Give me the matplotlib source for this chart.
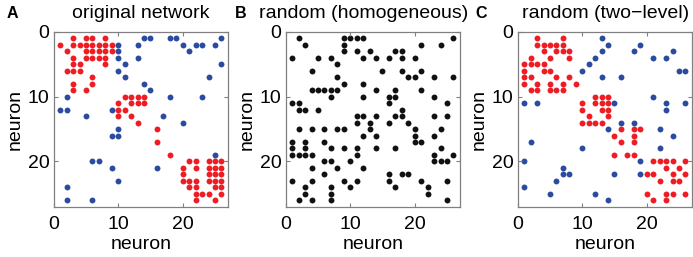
import matplotlib
matplotlib.use("Agg")
import matplotlib.pyplot as plt

plt.rcParams['font.family'] = ['Liberation Sans', 'DejaVu Sans']

# adjacency matrices: row (presynaptic) -> list of columns with a connection
a_red = {1: [3, 5, 6, 8], 2: [1, 3, 4, 5, 6, 7, 8, 9], 3: [2, 5, 6, 7, 8, 9],
         4: [3, 5, 6, 7, 8], 5: [3, 4, 8], 6: [2, 3, 4], 7: [6], 8: [3, 6],
         9: [3, 5], 10: [11, 12, 13, 14], 11: [10, 12, 13, 14], 12: [10, 11],
         13: [10, 12], 14: [13], 15: [16], 17: [16], 19: [18],
         20: [21, 22, 24, 25, 26], 21: [20, 22, 24, 25, 26], 22: [20, 24, 25, 26],
         23: [20, 21, 22, 24, 25, 26], 24: [21, 22, 25, 26], 25: [22, 23, 24, 26],
         26: [22, 25]}
a_blue = {1: [14, 15, 18, 19, 26], 2: [10, 13, 20, 22, 23, 25], 3: [10, 21],
          4: [10, 13], 5: [11, 26], 6: [10], 7: [11, 24], 8: [14], 9: [15],
          10: [2, 18, 23], 12: [1, 2, 9], 13: [5, 17], 14: [20], 15: [10],
          16: [9, 10], 19: [25], 20: [6, 7], 21: [9, 16], 23: [10], 24: [2],
          26: [2, 6]}

b_black = {1: [2, 9, 10, 11, 12, 26], 2: [3, 9, 21, 24], 3: [9, 11, 13, 17, 18],
           4: [1, 5, 7, 12, 14, 16, 18, 20], 5: [8], 6: [4, 15, 18, 21],
           7: [8, 19, 20, 23, 26], 8: [9, 12], 9: [4, 5, 6, 7, 8, 14, 17, 21],
           10: [7, 12, 16, 17, 23], 11: [1, 2, 16, 25], 12: [2, 3, 5, 18],
           13: [11, 12, 14, 17, 18, 23, 25], 14: [11, 13, 16, 19],
           15: [2, 4, 6, 8, 9, 13, 20, 24], 16: [12, 14, 20, 23],
           17: [1, 3, 6, 20, 21], 18: [1, 3, 7, 9, 11, 14, 17, 24],
           19: [1, 2, 3, 4, 11, 23, 26], 20: [6, 7, 10, 23, 24, 25],
           21: [4, 8, 12], 22: [6, 16, 18, 19], 23: [1, 4, 9, 11, 16, 21, 25],
           24: [3, 7, 10, 17, 22], 25: [3, 7, 22], 26: [2, 4, 7, 25]}

c_red = {1: [3, 7], 2: [3, 4, 5, 6, 7], 3: [4, 6, 7, 8], 4: [2, 5, 8],
         5: [1, 2, 3, 4], 6: [1, 4, 5], 7: [1, 2, 6, 8], 8: [1, 3, 5, 7, 9],
         9: [2, 3, 5, 6, 7], 10: [12, 13, 14], 11: [10, 12, 13, 14],
         12: [10, 13, 14], 13: [11, 14], 14: [10, 11, 12, 13], 15: [16, 18, 19],
         16: [15, 18], 17: [16, 18], 19: [15, 17, 18], 20: [21, 22, 23, 24, 26],
         21: [23, 25], 22: [20, 21, 24, 26], 23: [22, 24, 25],
         25: [20, 23, 24, 26], 26: [21, 23]}
c_blue = {1: [13], 2: [14, 19], 3: [13, 18, 24], 4: [12, 21, 23], 5: [11],
          6: [10, 25, 26], 7: [13, 16], 10: [21], 11: [1, 3, 15, 23, 26],
          12: [23], 14: [16, 18], 15: [14, 22], 16: [24], 17: [2], 18: [10, 22],
          20: [1, 19], 21: [7], 22: [7, 8, 15, 19], 23: [6], 24: [1], 25: [5, 12],
          26: [14]}

titles = ["original network", "random (homogeneous)", "random (two\u2212level)"]
letters = ["A", "B", "C"]
ticks = [0, 10, 20]

RED = '#ee1d23'
BLUE = '#2b4ba1'
BLACK = '#111111'


def to_xy(d):
    xs, ys = [], []
    for r, cols in d.items():
        for c in cols:
            xs.append(c)
            ys.append(r)
    return xs, ys


fig = plt.figure(figsize=(6.93, 2.57), dpi=100)
W, H = 693.0, 257.0
lefts = [53.7, 285.7, 517.7]
panels = [[(a_red, RED), (a_blue, BLUE)],
          [(b_black, BLACK)],
          [(c_red, RED), (c_blue, BLUE)]]
title_x = [141, 364, 606]
letter_x = [12, 241, 481]

for i in range(3):
    ax = fig.add_axes([lefts[i] / W, (H - 206.7) / H, 174.2 / W, 174.7 / H])
    for d, col in panels[i]:
        xs, ys = to_xy(d)
        ax.scatter(xs, ys, s=18, c=col, linewidths=0)
    ax.set_xlim(0, 27)
    ax.set_ylim(27, 0)
    ax.set_xticks(ticks)
    ax.set_yticks(ticks)
    ax.tick_params(direction='in', length=3, width=0.8, color='#808080',
                   labelsize=14, top=True, right=True, pad=3)
    ax.tick_params(axis='x', pad=7)
    for sp in ax.spines.values():
        sp.set_color('#808080')
        sp.set_linewidth(0.9)
    ax.set_xlabel("neuron", fontsize=14, labelpad=2)
    ax.set_ylabel("neuron", fontsize=14, labelpad=3)
    fig.text(title_x[i] / W, 1 - 13 / H, titles[i], fontsize=14,
             ha='center', va='center')
    fig.text(letter_x[i] / W, 1 - 13 / H, letters[i], fontsize=11.5,
             fontweight='bold', ha='center', va='center')

fig.savefig("out.png", dpi=100)
